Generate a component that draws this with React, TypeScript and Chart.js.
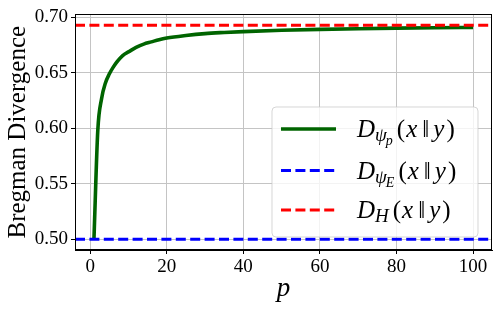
import React, { useEffect, useRef } from "react";
import { Chart, registerables } from "chart.js";

Chart.register(...registerables);

// ---- data ----
const pValues = [1, 2, 3, 4, 5, 6, 7, 8, 9, 10, 12, 14, 16, 18, 20, 25, 30, 35, 40, 50, 60, 70, 80, 90, 100];
const dPsiP = [0.5, 0.598, 0.627, 0.641, 0.649, 0.655, 0.66, 0.664, 0.667, 0.669, 0.673, 0.676, 0.678, 0.68, 0.6815, 0.6838, 0.6855, 0.6865, 0.6873, 0.6885, 0.6893, 0.6899, 0.6904, 0.6908, 0.6911];
const dPsiE = 0.5;
const dH = 0.6931;
const xTicks = [0, 20, 40, 60, 80, 100];
const yTicks = [0.5, 0.55, 0.6, 0.65, 0.7];
const xMin = -3.95;
const xMax = 104.95;
const yMin = 0.4903;
const yMax = 0.7028;
const xTitle = "p";
const yTitle = "Bregman Divergence";

const SERIF = '"Liberation Serif", "DejaVu Serif", serif';

type Piece = { t: string; size: number; italic: boolean; dy: number; gap?: number };

function legendPieces(sub: string, subsub: string | null): Piece[] {
  const arr: Piece[] = [{ t: "D", size: 25, italic: true, dy: 0 }];
  if (subsub) {
    arr.push({ t: sub, size: 19, italic: true, dy: 4, gap: 0 });
    arr.push({ t: subsub, size: 14, italic: true, dy: 8, gap: -1 });
  } else {
    arr.push({ t: sub, size: 19, italic: true, dy: 4, gap: 0 });
  }
  arr.push({ t: "(", size: 25, italic: false, dy: 0, gap: 4 });
  arr.push({ t: "x", size: 25, italic: true, dy: 0, gap: 1 });
  arr.push({ t: "\u2016", size: 25, italic: false, dy: 0, gap: 5 });
  arr.push({ t: "y", size: 25, italic: true, dy: 0, gap: 4 });
  arr.push({ t: ")", size: 25, italic: false, dy: 0, gap: 2 });
  return arr;
}

const legendItems = [
  { color: "#006400", dash: [] as number[], width: 3.6, pieces: legendPieces("\u03C8", "p") },
  { color: "#0000ff", dash: [10, 4.4], width: 3, pieces: legendPieces("\u03C8", "E") },
  { color: "#ff0000", dash: [10, 4.4], width: 3, pieces: legendPieces("H", null) },
];

const overlayPlugin = {
  id: "overlay",
  afterDraw(chart: any) {
    const { ctx, chartArea: a } = chart;
    ctx.save();
    // frame (top / right spines)
    ctx.strokeStyle = "#000";
    ctx.lineWidth = 1;
    ctx.setLineDash([]);
    ctx.strokeRect(Math.round(a.left) + 0.5, Math.round(a.top) + 0.5, Math.round(a.right - a.left) - 1, Math.round(a.bottom - a.top) - 1);

    // axis titles
    ctx.fillStyle = "#000";
    ctx.font = `25px ${SERIF}`;
    ctx.textAlign = "center";
    ctx.textBaseline = "alphabetic";
    ctx.save();
    ctx.translate(25, (a.top + a.bottom) / 2);
    ctx.rotate(-Math.PI / 2);
    ctx.fillText(yTitle, 0, 0);
    ctx.restore();
    ctx.font = `italic 27px ${SERIF}`;
    ctx.fillText(xTitle, (a.left + a.right) / 2, 296);

    // legend box
    const bx = 272, by = 107, bw = 206, bh = 130, r = 4;
    ctx.beginPath();
    ctx.moveTo(bx + r, by);
    ctx.arcTo(bx + bw, by, bx + bw, by + bh, r);
    ctx.arcTo(bx + bw, by + bh, bx, by + bh, r);
    ctx.arcTo(bx, by + bh, bx, by, r);
    ctx.arcTo(bx, by, bx + bw, by, r);
    ctx.closePath();
    ctx.fillStyle = "rgba(255,255,255,0.8)";
    ctx.fill();
    ctx.strokeStyle = "rgba(204,204,204,0.8)";
    ctx.lineWidth = 1;
    ctx.stroke();

    const rowY = [129, 170.5, 210];
    legendItems.forEach((it, i) => {
      const y = rowY[i];
      ctx.beginPath();
      ctx.setLineDash(it.dash);
      ctx.strokeStyle = it.color;
      ctx.lineWidth = it.width;
      ctx.moveTo(281, y);
      ctx.lineTo(336, y);
      ctx.stroke();
      ctx.setLineDash([]);
      let x = 357;
      const base = y + 8;
      ctx.fillStyle = "#000";
      ctx.textAlign = "left";
      ctx.textBaseline = "alphabetic";
      for (const p of it.pieces) {
        x += p.gap || 0;
        ctx.font = `${p.italic ? "italic " : ""}${p.size}px ${SERIF}`;
        ctx.fillText(p.t, x, base + p.dy);
        x += ctx.measureText(p.t).width;
      }
    });
    ctx.restore();
  },
};

export default function App() {
  const ref = useRef<HTMLCanvasElement | null>(null);
  useEffect(() => {
    if (!ref.current) return;
    const tickFont = { family: SERIF, size: 19 };
    const chart = new Chart(ref.current, {
      type: "line",
      data: {
        datasets: [
          {
            label: "D_psi_p",
            data: pValues.map((p, i) => ({ x: p, y: dPsiP[i] })),
            borderColor: "#006400",
            borderWidth: 3.6,
            pointRadius: 0,
            cubicInterpolationMode: "monotone",
            order: 3,
          },
          {
            label: "D_psi_E",
            data: [{ x: xMin, y: dPsiE }, { x: xMax, y: dPsiE }],
            borderColor: "#0000ff",
            borderWidth: 3,
            borderDash: [10, 4.4],
            pointRadius: 0,
            order: 2,
          },
          {
            label: "D_H",
            data: [{ x: xMin, y: dH }, { x: xMax, y: dH }],
            borderColor: "#ff0000",
            borderWidth: 3,
            borderDash: [10, 4.4],
            pointRadius: 0,
            order: 1,
          },
        ],
      },
      options: {
        animation: false,
        responsive: false,
        layout: { padding: { top: 12, right: 6, left: 0, bottom: 0 } },
        plugins: { legend: { display: false }, tooltip: { enabled: false } },
        scales: {
          x: {
            type: "linear",
            min: xMin,
            max: xMax,
            afterBuildTicks: (s: any) => { s.ticks = xTicks.map((v) => ({ value: v })); },
            afterFit: (s: any) => { s.height = 59; },
            ticks: { font: tickFont, color: "#000", padding: 2, maxRotation: 0, callback: (v: any) => String(v) },
            grid: { color: "#c4c4c4", lineWidth: 1, tickLength: 4, tickColor: "#000" },
            border: { color: "#000", width: 1 },
          },
          y: {
            type: "linear",
            min: yMin,
            max: yMax,
            afterBuildTicks: (s: any) => { s.ticks = yTicks.map((v) => ({ value: v })); },
            afterFit: (s: any) => { s.width = 75; },
            ticks: { font: tickFont, color: "#000", padding: 3, callback: (v: any) => Number(v).toFixed(2) },
            grid: { color: "#c4c4c4", lineWidth: 1, tickLength: 4, tickColor: "#000" },
            border: { color: "#000", width: 1 },
          },
        },
      },
      plugins: [overlayPlugin],
    } as any);
    return () => chart.destroy();
  }, []);
  return (
    <div style={{ position: "absolute", left: 0, top: 0, width: 498, height: 309, background: "#fff" }}>
      <canvas ref={ref} width={498} height={309} />
    </div>
  );
}
